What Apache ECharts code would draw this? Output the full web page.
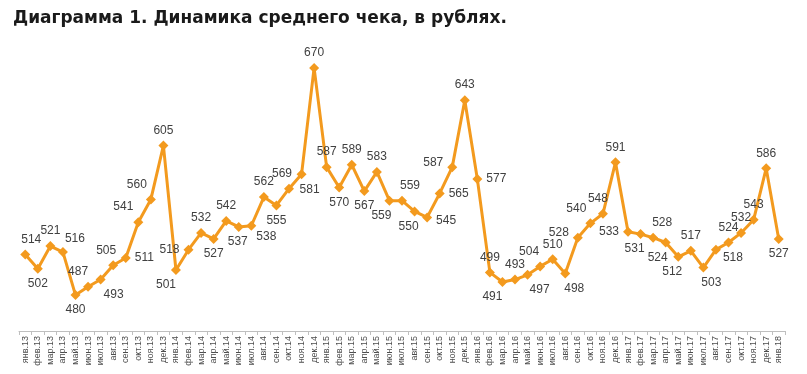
<!DOCTYPE html>
<html><head><meta charset="utf-8">
<script src="https://cdn.jsdelivr.net/npm/echarts@6/dist/echarts.min.js"></script>
<style>html,body{margin:0;padding:0;background:#fff}#c{width:807px;height:374px}</style>
</head><body><div id="c"></div>
<script>
var months = ['янв','фев','мар','апр','май','июн','июл','авг','сен','окт','ноя','дек'];
var years = ['13','14','15','16','17'];
var categories = [];
years.forEach(function(y){ months.forEach(function(m){ categories.push(m + '.' + y); }); });
categories.push('янв.18');

var values2013 = [514,502,521,516,480,487,493,505,511,541,560,605];
var values2014 = [501,518,532,527,542,537,538,562,555,569,581,670];
var values2015 = [587,570,589,567,583,559,559,550,545,565,587,643];
var values2016 = [577,499,491,493,497,504,510,498,528,540,548,591];
var values2017 = [533,531,528,524,512,517,503,518,524,532,543,586];
var values2018 = [527];
var values = [].concat(values2013, values2014, values2015, values2016, values2017, values2018);

// label placement styling: [position, dx, dy]
var labelStyle = [
 ['top',6,0],['bottom',0,0],['top',0,0],['top',12,2],['bottom',0,0],['top',-10,0],
 ['bottom',13,0],['top',-7,0],['right',0,0],['top',-15,0],['top',-14,0],['top',0,0],
 ['bottom',-10,0],['left',0,0],['top',0,0],['bottom',0,0],['top',0,0],['bottom',-1,0],
 ['bottom',15,-4],['top',0,0],['bottom',0,0],['top',-7,0],['bottom',8,0],['top',0,0],
 ['top',0,0],['bottom',0,0],['top',0,0],['bottom',0,0],['top',0,0],['bottom',-8,0],
 ['top',8,0],['bottom',-6,0],['right',0,3],['right',0,0],['left',0,-4],['top',0,0],
 ['right',0,0],['top',0,0],['bottom',-10,0],['top',0,0],['bottom',12,0],['top',-11,0],
 ['top',0,0],['bottom',9,0],['left',0,-5],['top',-14,0],['top',-5,0],['top',0,0],
 ['left',0,0],['bottom',-6,0],['top',9,0],['bottom',-8,0],['bottom',-6,0],['top',0,0],
 ['bottom',8,0],['right',-2,8],['top',0,0],['top',0,0],['top',0,0],['top',0,0],
 ['bottom',0,0]
];

var data = values.map(function(v,i){
  return {value:v, label:{position:labelStyle[i][0]}};
});

var chart = echarts.init(document.getElementById('c'));
chart.setOption({
  animation:false,
  title:{
    text:'Диаграмма 1. Динамика среднего чека, в рублях.',
    left:8, top:5,
    textStyle:{fontFamily:'DejaVu Sans', fontWeight:'bold', fontSize:17, color:'#1a1a1a'}
  },
  grid:{left:19, right:22, top:32, bottom:43},
  xAxis:{
    type:'category', data:categories, boundaryGap:true,
    axisLine:{lineStyle:{color:'#bfbfbf'}},
    axisTick:{show:true, length:4, lineStyle:{color:'#bfbfbf'}},
    axisLabel:{rotate:90, interval:0, fontSize:9, color:'#4d4d4d', fontFamily:'Liberation Sans', margin:5}
  },
  yAxis:{type:'value', min:450, max:700, show:false, splitLine:{show:false}},
  series:[{
    type:'line', data:data,
    lineStyle:{color:'#F39A1E', width:3},
    itemStyle:{color:'#F39A1E'},
    symbol:'diamond', symbolSize:10,
    labelLayout:function(p){
      var s = labelStyle[p.dataIndex];
      return {dx:s[1], dy:s[2], hideOverlap:false};
    },
    label:{show:true, fontSize:12, color:'#404040', fontFamily:'Liberation Sans', distance:4}
  }]
});
</script>
</body></html>
